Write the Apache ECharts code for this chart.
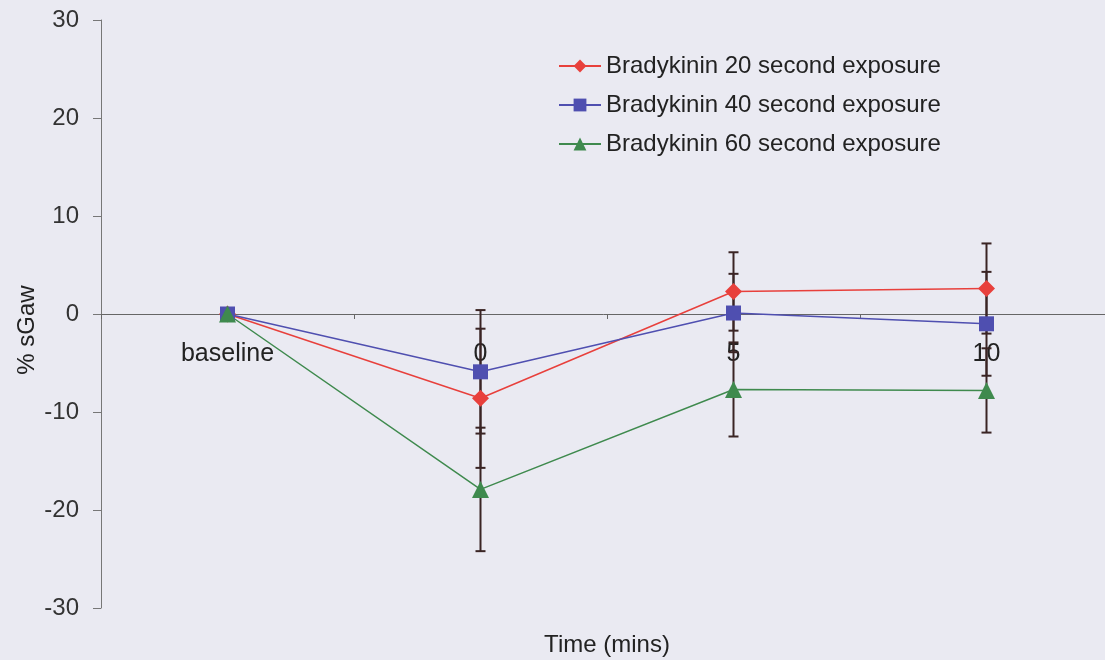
<!DOCTYPE html>
<html>
<head>
<meta charset="utf-8">
<script src="https://cdn.jsdelivr.net/npm/echarts@6/dist/echarts.min.js"></script>
<style>
html,body{margin:0;padding:0;background:#eaeaf2;}
#chart{width:1105px;height:660px;}
</style>
</head>
<body>
<div id="chart"></div>
<script>
const categories = ['baseline', '0', '5', '10'];
const seriesNames = ['Bradykinin 20 second exposure', 'Bradykinin 40 second exposure', 'Bradykinin 60 second exposure'];
const bk20 = [0, -8.6, 2.3, 2.6];
const bk40 = [0, -5.9, 0.1, -1.0];
const bk60 = [0, -17.9, -7.7, -7.8];
const bk20Err = [0, 7.1, 4.0, 4.6];
const bk40Err = [0, 6.3, 4.0, 5.3];
const bk60Err = [0, 6.3, 4.8, 4.3];
const yTicks = [-30, -20, -10, 0, 10, 20, 30];

const colors = ['#e8403c', '#4f4fb0', '#3f8a4e'];
const symbols = ['diamond', 'rect', 'triangle'];
const symbolSizes = [17, 15, 17];
const values = [bk20, bk40, bk60];
const errs = [bk20Err, bk40Err, bk60Err];
const FONT = 'Liberation Sans, Arial, sans-serif';

function errData(vals, e) {
  return vals.map((v, i) => [i, v - e[i], v + e[i]]);
}

function errRender(params, api) {
  const x = api.value(0);
  const lo = api.coord([x, api.value(1)]);
  const hi = api.coord([x, api.value(2)]);
  if (Math.abs(lo[1] - hi[1]) < 1) return null;
  const w = 5;
  const st = { stroke: '#3a2424', lineWidth: 2 };
  return {
    type: 'group',
    children: [
      { type: 'line', shape: { x1: hi[0], y1: hi[1], x2: lo[0], y2: lo[1] }, style: st },
      { type: 'line', shape: { x1: hi[0] - w, y1: hi[1], x2: hi[0] + w, y2: hi[1] }, style: st },
      { type: 'line', shape: { x1: lo[0] - w, y1: lo[1], x2: lo[0] + w, y2: lo[1] }, style: st }
    ]
  };
}

const series = [];
values.forEach((vals, k) => {
  series.push({
    type: 'custom',
    name: seriesNames[k] + ' err',
    renderItem: errRender,
    data: errData(vals, errs[k]),
    z: 1,
    silent: true
  });
});
values.forEach((vals, k) => {
  series.push({
    type: 'line',
    name: seriesNames[k],
    data: vals,
    symbol: symbols[k],
    symbolSize: symbolSizes[k],
    lineStyle: { color: colors[k], width: 1.5 },
    itemStyle: { color: colors[k] },
    z: 3,
    animation: false
  });
});

const chart = echarts.init(document.getElementById('chart'), null, { renderer: 'canvas' });
chart.setOption({
  backgroundColor: '#eaeaf2',
  animation: false,
  textStyle: { fontFamily: FONT },
  grid: { left: 101, top: 20, width: 1012, height: 588, outerBoundsMode: 'none', containLabel: false },
  legend: {
    data: seriesNames,
    orient: 'vertical',
    left: 553,
    top: 49,
    itemWidth: 42,
    itemHeight: 16,
    itemGap: 15,
    textStyle: { fontSize: 24, color: '#222', fontFamily: FONT }
  },
  xAxis: {
    type: 'category',
    data: categories,
    boundaryGap: true,
    offset: -294,
    axisLine: { onZero: false, lineStyle: { color: '#666', width: 1 } },
    axisTick: { show: true, inside: false, length: 5, lineStyle: { color: '#666' } },
    axisLabel: { margin: 28, fontSize: 25, color: '#222', fontFamily: FONT },
    name: 'Time (mins)',
    nameLocation: 'middle',
    nameGap: 319,
    nameTextStyle: { fontSize: 24, color: '#222', fontFamily: FONT },
    splitLine: { show: false }
  },
  yAxis: {
    type: 'value',
    min: -30,
    max: 30,
    interval: 10,
    axisLine: { show: true, lineStyle: { color: '#777', width: 1 } },
    axisTick: { show: true, inside: false, length: 8, lineStyle: { color: '#777' } },
    axisLabel: {
      margin: 22, fontSize: 24, color: '#333', fontFamily: FONT,
      formatter: v => (yTicks.indexOf(v) >= 0 ? String(v) : '')
    },
    splitLine: { show: false },
    name: '% sGaw',
    nameLocation: 'middle',
    nameGap: 62,
    nameRotate: 90,
    nameMoveOverlap: false,
    nameTextStyle: { fontSize: 24, color: '#222', fontFamily: FONT, padding: [0, 32, 0, 0] }
  },
  series: series
});
</script>
</body>
</html>
